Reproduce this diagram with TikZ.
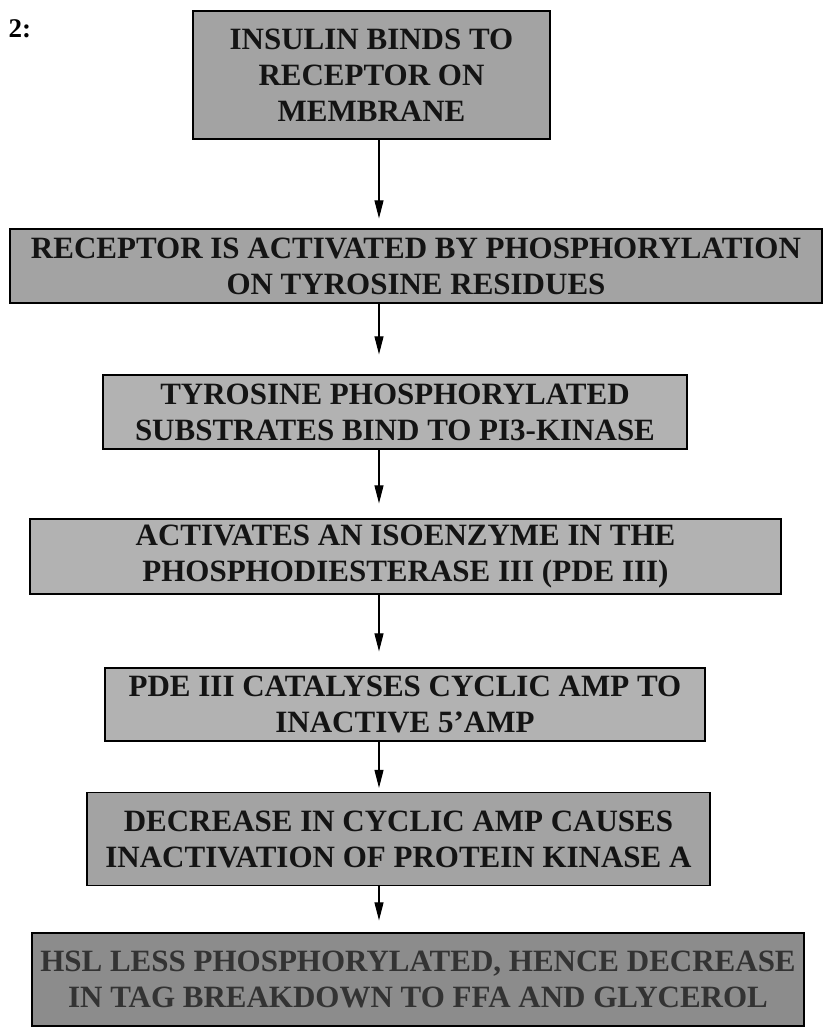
\documentclass[tikz,border=0pt]{standalone}
\usepackage{fontspec}
\setmainfont{Liberation Serif}
\usetikzlibrary{arrows.meta,calc}
\begin{document}
\begin{tikzpicture}[x=1pt,y=-1pt,
  stepbox/.style={draw=black, line width=1.3pt, fill=black!36, text=black!92,
    align=center, inner sep=0pt, font=\fontsize{31}{36}\selectfont\bfseries},
  flowarrow/.style={draw=black, line width=1.1pt, -{Triangle[length=18pt,width=9pt]}},
]
\useasboundingbox (0,0) rectangle (824,1028);
\coordinate (ax) at (379,0);
\node[anchor=base west, font=\fontsize{27}{30}\selectfont\bfseries] (lbl) at (5,37) {2:};
\node[stepbox, minimum width=357pt, minimum height=128pt] (b1) at (371.5,75)
  {INSULIN BINDS TO\\RECEPTOR ON\\MEMBRANE};
\node[stepbox, minimum width=812pt, minimum height=74pt] (b2) at (416,266)
  {RECEPTOR IS ACTIVATED BY PHOSPHORYLATION\\ON TYROSINE RESIDUES};
\node[stepbox, fill=black!30, minimum width=584pt, minimum height=74pt] (b3) at (395,412)
  {TYROSINE PHOSPHORYLATED\\SUBSTRATES BIND TO PI3-KINASE};
\node[stepbox, fill=black!30, minimum width=751pt, minimum height=75pt] (b4) at (405.5,556.5)
  {ACTIVATES AN ISOENZYME IN THE\\PHOSPHODIESTERASE III (PDE III)};
\node[stepbox, fill=black!30, minimum width=600pt, minimum height=73pt] (b5) at (405,704.5)
  {PDE III CATALYSES CYCLIC AMP TO\\INACTIVE 5'AMP};
\node[stepbox, minimum width=623pt, minimum height=93pt] (b6) at (398.5,839)
  {DECREASE IN CYCLIC AMP CAUSES\\INACTIVATION OF PROTEIN KINASE A};
\node[stepbox, fill=black!45, text=black!80, minimum width=772pt, minimum height=93pt] (b7) at (418,979.5)
  {HSL LESS PHOSPHORYLATED, HENCE DECREASE\\IN TAG BREAKDOWN TO FFA AND GLYCEROL};
\draw[flowarrow, shorten >=10pt] (b1.south -| ax) -- (b2.north -| ax);
\draw[flowarrow, shorten >=20pt] (b2.south -| ax) -- (b3.north -| ax);
\draw[flowarrow, shorten >=15pt] (b3.south -| ax) -- (b4.north -| ax);
\draw[flowarrow, shorten >=16pt] (b4.south -| ax) -- (b5.north -| ax);
\draw[flowarrow, shorten >=4pt] (b5.south -| ax) -- (b6.north -| ax);
\draw[flowarrow, shorten >=12pt] (b6.south -| ax) -- (b7.north -| ax);
\end{tikzpicture}
\end{document}
